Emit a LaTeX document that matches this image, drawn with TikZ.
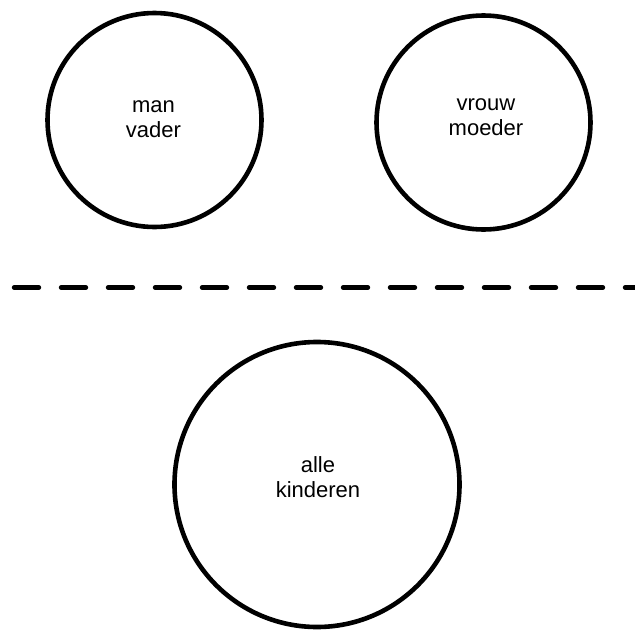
\documentclass[tikz,border=0pt]{standalone}
\usepackage{fontspec}
\setmainfont{Liberation Sans}
\begin{document}
\begin{tikzpicture}[x=1pt,y=-1pt,
  ring/.style={draw=black,line width=4.6pt,circle,inner sep=0pt},
  lbl/.style={align=center,inner sep=0pt,font=\fontsize{22}{25}\selectfont}]
\useasboundingbox (0,0) rectangle (635,632);
\node[ring,minimum size=214pt] (man) at (154.5,120) {};
\node[ring,minimum size=214pt] (vrouw) at (483.5,122.5) {};
\node[ring,minimum size=285pt] (kind) at (317,484.5) {};
\node[lbl] (tman) at (153.5,118.8) {man\\vader};
\node[lbl] (tvrouw) at (486,116.8) {vrouw\\moeder};
\node[lbl] (tkind) at (318,477.5) {alle\\kinderen};
\coordinate (dl) at (14,287.5);
\coordinate (dr) at (640,287.5);
\draw[line width=4.4pt,dash pattern=on 25pt off 22pt,line cap=round] (dl) -- (dr);
\end{tikzpicture}
\end{document}
